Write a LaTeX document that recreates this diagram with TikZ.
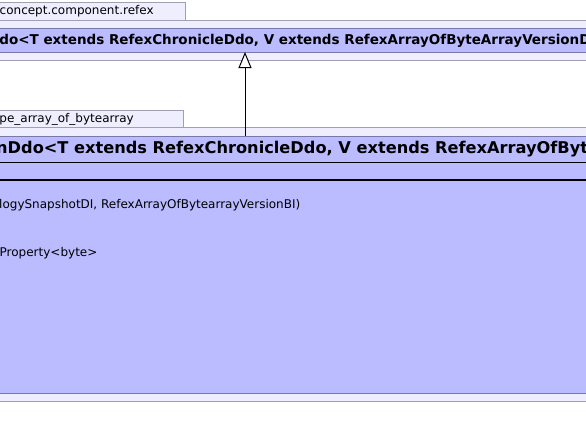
\documentclass[tikz,border=0pt]{standalone}
\usepackage{fontspec}
\setmainfont{DejaVu Sans}
\usetikzlibrary{arrows.meta}
\definecolor{pkgfill}{RGB}{238,238,255}
\definecolor{pkgline}{RGB}{160,160,176}
\definecolor{clsfill}{RGB}{187,187,255}
\definecolor{clsline}{RGB}{120,120,170}
\tikzset{
  pkgbox/.style={draw=pkgline, fill=pkgfill, line width=1pt},
  clsbox/.style={draw=clsline, fill=clsfill, line width=1pt},
  lbl/.style={inner sep=0pt, anchor=west, font=\fontsize{12}{14}\selectfont},
  ttlA/.style={inner sep=0pt, anchor=west, font=\fontsize{13.5}{15}\selectfont\bfseries},
  ttlB/.style={inner sep=0pt, anchor=west, font=\fontsize{16.2}{18}\selectfont\bfseries},
  gen/.style={-{Triangle[open, length=16pt, width=13pt, fill=white]}, line width=1pt}
}
\begin{document}
\begin{tikzpicture}[x=1pt, y=-1pt]
\useasboundingbox (0,0) rectangle (586,439);
\fill[white] (0,0) rectangle (586,439);
\clip (0,0) rectangle (586,439);
% top package
\draw[pkgbox] (-10,2) rectangle (185,20);
\node[lbl] (tabA) at (-0.5,11) {concept.component.refex};
\draw[pkgbox] (-10,20) rectangle (600,60);
\draw[clsbox] (-10,28) rectangle (600,52);
\node[ttlA] (titleA) at (-0.8,40.5) {do<T extends RefexChronicleDdo, V extends RefexArrayOfByteArrayVersionD};
% second package
\draw[pkgbox] (-10,110) rectangle (183.5,127);
\node[lbl] (tabB) at (-0.8,119) {pe\_array\_of\_bytearray};
\draw[pkgbox] (-10,127) rectangle (600,401);
\draw[clsbox] (-10,136) rectangle (600,393);
\node[ttlB] (titleB) at (-4,149.5) {nDdo<T extends RefexChronicleDdo, V extends RefexArrayOfByt};
\draw[black, line width=1pt] (-10,162) -- (600,162);
\draw[black, line width=2pt] (-10,180) -- (600,180);
\node[lbl] (attr1) at (-1,205.5) {logySnapshotDI, RefexArrayOfBytearrayVersionBI)};
\node[lbl] (attr2) at (-0.5,253.5) {Property<byte>};
% generalization
\coordinate (subTop) at (245,136);
\coordinate (supBot) at (245,52);
\draw[gen] (subTop) -- (supBot);
\end{tikzpicture}
\end{document}
